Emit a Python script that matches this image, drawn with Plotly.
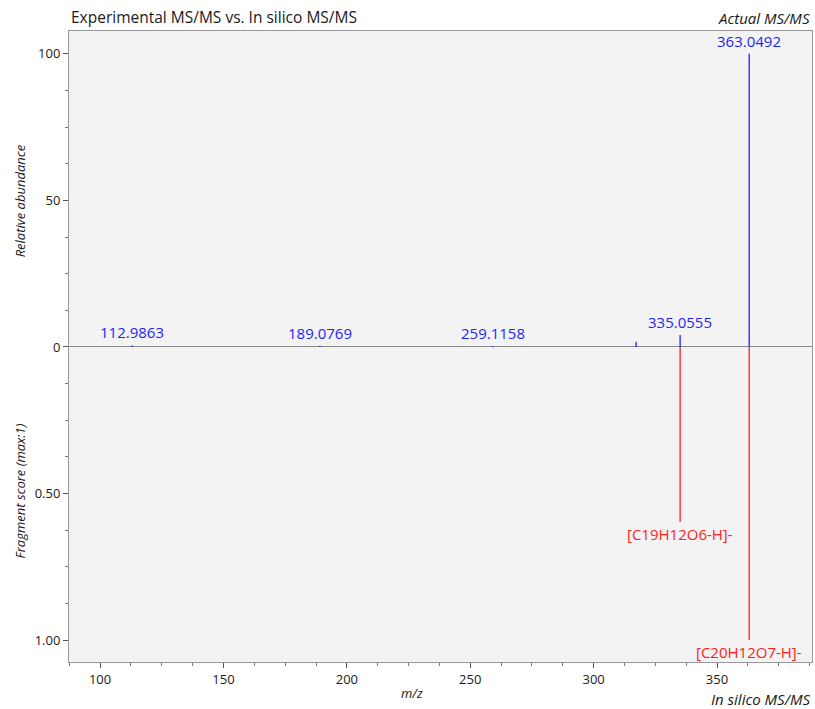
import plotly.graph_objects as go

# Experimental MS/MS (relative abundance, %)
exp_mz = [112.9863, 189.0769, 259.1158, 317.2, 335.0555, 363.0492]
exp_int = [0.5, 0.4, 0.3, 1.8, 4.1, 100.0]
exp_labels = ["112.9863", "189.0769", "259.1158", "", "335.0555", "363.0492"]

# In silico MS/MS (fragment score, max 1)
sil_mz = [335.0555, 363.0492]
sil_score = [0.597, 1.0]
sil_labels = ["[C19H12O6-H]-", "[C20H12O7-H]-"]

y_tickvals = [100, 50, 0, -50, -100]
y_ticktext = ["100", "50", "0", "0.50", "1.00"]
x_tickvals = [100, 150, 200, 250, 300, 350]

FONT = "Open Sans, Segoe UI, sans-serif"
BLUE = "#1f1fff"
RED = "#ff2020"
TXT = "#1a1a1a"

def stems(xs, ys):
    X, Y = [], []
    for x, y in zip(xs, ys):
        X += [x, x, None]
        Y += [0, y, None]
    return X, Y

fig = go.Figure()
bx, by = stems(exp_mz, exp_int)
fig.add_trace(go.Scatter(x=bx, y=by, mode="lines", line=dict(color=BLUE, width=1.3),
                         hoverinfo="skip", showlegend=False))
rx, ry = stems(sil_mz, [-s * 100 for s in sil_score])
fig.add_trace(go.Scatter(x=rx, y=ry, mode="lines", line=dict(color=RED, width=1.3),
                         hoverinfo="skip", showlegend=False))

for x, y, t in zip(exp_mz, exp_int, exp_labels):
    if t:
        fig.add_annotation(x=x, y=y, text=t, showarrow=False, yanchor="bottom", yshift=1,
                           font=dict(family=FONT, size=15, color=BLUE))
for x, s, t in zip(sil_mz, sil_score, sil_labels):
    fig.add_annotation(x=x, y=-s * 100, text=t, showarrow=False, yanchor="top", yshift=0,
                       font=dict(family=FONT, size=15, color=RED))

fig.add_annotation(xref="paper", yref="paper", x=0.0, y=1.0, yanchor="bottom", yshift=1,
                   xanchor="left", text="Experimental MS/MS vs. In silico MS/MS",
                   showarrow=False, font=dict(family=FONT, size=15.5, color=TXT))
fig.add_annotation(xref="paper", yref="paper", x=1.0, y=1.0, yanchor="bottom", yshift=1,
                   xanchor="right", text="<i>Actual MS/MS</i>",
                   showarrow=False, font=dict(family=FONT, size=15, color=TXT))
fig.add_annotation(xref="paper", yref="paper", x=1.0, y=0, yanchor="top", yshift=-25,
                   xanchor="right", text="<i>In silico MS/MS</i>",
                   showarrow=False, font=dict(family=FONT, size=15, color=TXT))
fig.add_annotation(xref="x", yref="paper", x=226.5, y=0, yanchor="top", yshift=-20,
                   text="<i>m/z</i>",
                   showarrow=False, font=dict(family=FONT, size=13, color=TXT))
fig.add_annotation(xref="paper", yref="y", x=-0.066, y=50, textangle=-90,
                   xanchor="center", yanchor="middle",
                   text="<i>Relative abundance</i>",
                   showarrow=False, font=dict(family=FONT, size=13, color=TXT))
fig.add_annotation(xref="paper", yref="y", x=-0.066, y=-49, textangle=-90,
                   xanchor="center", yanchor="middle",
                   text="<i>Fragment score (max:1)</i>",
                   showarrow=False, font=dict(family=FONT, size=13, color=TXT))

fig.update_layout(
    width=815, height=709,
    margin=dict(l=69, r=3, t=31, b=47),
    paper_bgcolor="white", plot_bgcolor="#f3f3f3",
    font=dict(family=FONT, size=13, color=TXT),
    xaxis=dict(range=[87.4, 388.5], tickvals=x_tickvals, ticks="outside", ticklen=5,
               tickcolor="#555", showgrid=False, zeroline=False, showline=True,
               linecolor="#999", linewidth=1, mirror=True, automargin=False,
               minor=dict(dtick=12.5, tick0=100, ticks="outside", ticklen=3, tickcolor="#777"),
               tickfont=dict(size=13)),
    yaxis=dict(range=[-107.5, 107.8], tickvals=y_tickvals, ticktext=y_ticktext,
               ticks="outside", ticklen=5, tickcolor="#555", showgrid=False,
               zeroline=True, zerolinecolor="#888", zerolinewidth=1,
               showline=True, linecolor="#999", linewidth=1, mirror=True, automargin=False,
               minor=dict(dtick=12.5, tick0=0, ticks="outside", ticklen=3, tickcolor="#777"),
               tickfont=dict(size=13)),
)

fig.write_html("out.html", config={"displayModeBar": False},
               post_script="document.body.style.margin='0px';document.body.style.overflow='hidden';")
